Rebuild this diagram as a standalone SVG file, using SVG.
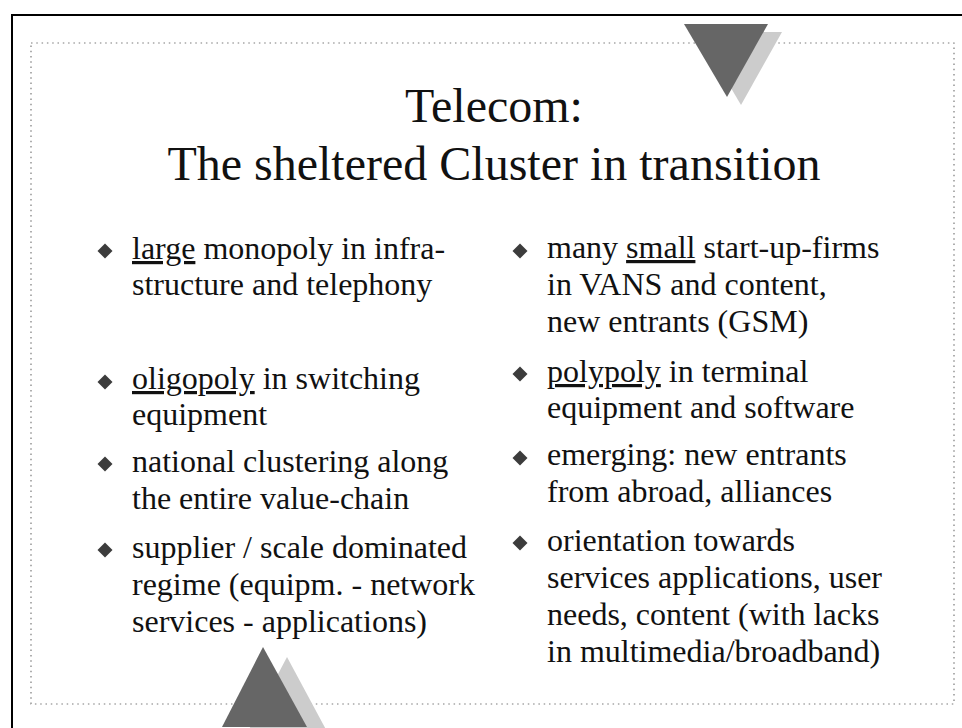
<svg xmlns="http://www.w3.org/2000/svg" width="962" height="728" viewBox="0 0 962 728">
<style>
  .t { font-family: "Liberation Serif", "Times New Roman", serif; fill: #111; }
  .title { font-size: 48px; text-anchor: middle; }
  .b { font-size: 32px; }
  .u { text-decoration: underline; }
  .dia { fill: #3c3c3c; }
  .dark { fill: #666666; }
  .light { fill: #cccccc; }
</style>
<defs>
  <polygon id="diamond" class="dia" points="0,-7.5 7.5,0 0,7.5 -7.5,0"/>
</defs>
<rect width="962" height="728" fill="#ffffff"/>
<rect id="frame" x="12" y="15" width="980" height="740" fill="none" stroke="#000" stroke-width="2"/>
<rect id="dotted" x="31" y="43" width="923" height="661" fill="none" stroke="#7a7a7a" stroke-width="1.2" stroke-dasharray="1.5 3.8"/>

<g id="tri-top">
  <polygon class="light" points="698,32 782,32 741,105"/>
  <polygon class="dark" points="684,24 768,24 727,97"/>
</g>
<g id="tri-bottom">
  <polygon class="light" points="287,657 245,737 330,737"/>
  <polygon class="dark" points="263,647 222,727 307,727"/>
</g>

<g id="title">
  <text class="t title" x="494" y="122">Telecom:</text>
  <text class="t title" x="494" y="180">The sheltered Cluster in transition</text>
</g>

<g id="left-1">
  <use href="#diamond" x="105" y="251"/>
  <text class="t b" x="132" y="259"><tspan class="u">large</tspan> monopoly in infra-</text>
  <text class="t b" x="132" y="295">structure and telephony</text>
</g>
<g id="left-2">
  <use href="#diamond" x="105" y="382"/>
  <text class="t b" x="132" y="389"><tspan class="u">oligopoly</tspan> in switching</text>
  <text class="t b" x="132" y="425">equipment</text>
</g>
<g id="left-3">
  <use href="#diamond" x="105" y="464"/>
  <text class="t b" x="132" y="472">national clustering along</text>
  <text class="t b" x="132" y="509">the entire value-chain</text>
</g>
<g id="left-4">
  <use href="#diamond" x="105" y="550"/>
  <text class="t b" x="132" y="558">supplier / scale dominated</text>
  <text class="t b" x="132" y="595">regime (equipm. - network</text>
  <text class="t b" x="132" y="632">services - applications)</text>
</g>

<g id="right-1">
  <use href="#diamond" x="520" y="251"/>
  <text class="t b" x="547" y="258">many <tspan class="u">small</tspan> start-up-firms</text>
  <text class="t b" x="547" y="295">in VANS and content,</text>
  <text class="t b" x="547" y="332">new entrants (GSM)</text>
</g>
<g id="right-2">
  <use href="#diamond" x="520" y="374"/>
  <text class="t b" x="547" y="382"><tspan class="u">polypoly</tspan> in terminal</text>
  <text class="t b" x="547" y="418">equipment and software</text>
</g>
<g id="right-3">
  <use href="#diamond" x="520" y="458"/>
  <text class="t b" x="547" y="465">emerging: new entrants</text>
  <text class="t b" x="547" y="502">from abroad, alliances</text>
</g>
<g id="right-4">
  <use href="#diamond" x="520" y="543"/>
  <text class="t b" x="547" y="551">orientation towards</text>
  <text class="t b" x="547" y="588">services applications, user</text>
  <text class="t b" x="547" y="625">needs, content (with lacks</text>
  <text class="t b" x="547" y="662">in multimedia/broadband)</text>
</g>
</svg>
